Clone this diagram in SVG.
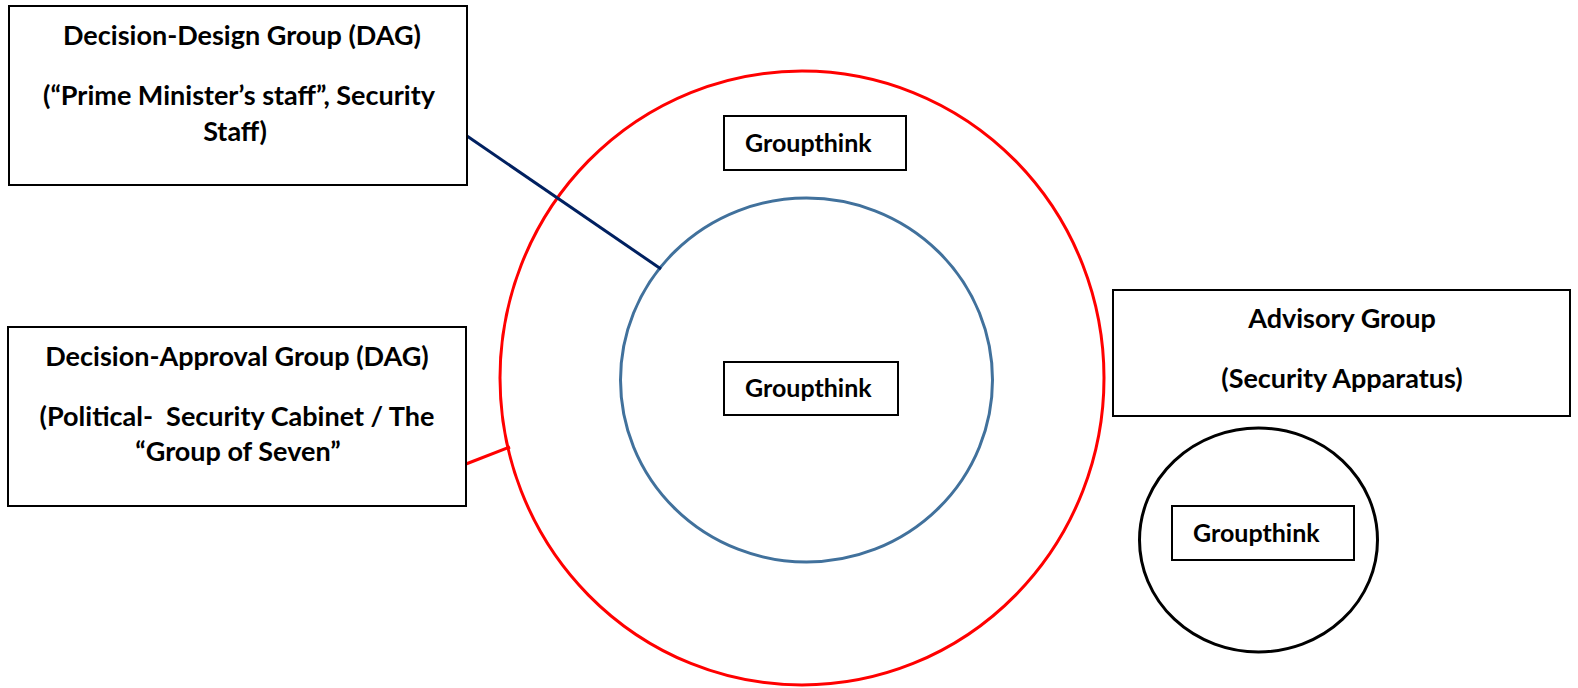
<svg xmlns="http://www.w3.org/2000/svg" width="1578" height="688" viewBox="0 0 1578 688">
<style>
.box{fill:#fff;stroke:#000;stroke-width:2}
.t{font-family:Lato,"Open Sans","Liberation Sans",sans-serif;font-weight:bold;font-size:27px;fill:#000}
.g{font-family:Lato,"Open Sans","Liberation Sans",sans-serif;font-weight:bold;font-size:25px;fill:#000}
.m{text-anchor:middle}
</style>
<rect width="1578" height="688" fill="#fff"/>
<g id="outer-circle"><ellipse cx="802" cy="378" rx="302" ry="307" fill="none" stroke="#ff0000" stroke-width="3"/></g>
<g id="inner-circle"><ellipse cx="806.5" cy="380" rx="186" ry="182" fill="none" stroke="#41719c" stroke-width="3"/></g>
<g id="advisory-circle"><ellipse cx="1258.5" cy="540" rx="119" ry="112" fill="none" stroke="#000" stroke-width="3"/></g>
<g id="connectors">
<line x1="467" y1="136" x2="661" y2="269" stroke="#002060" stroke-width="3"/>
<line x1="466" y1="464" x2="510" y2="447" stroke="#ff0000" stroke-width="3"/>
</g>
<g id="design-group">
<rect class="box" x="9" y="6" width="458" height="179"/>
<text class="t m" x="242" y="45">Decision-Design Group (DAG)</text>
<text class="t m" x="239" y="105">(“Prime Minister’s staff”, Security</text>
<text class="t m" x="235" y="141">Staff)</text>
</g>
<g id="approval-group">
<rect class="box" x="8" y="327" width="458" height="179"/>
<text class="t m" x="237" y="366">Decision-Approval Group (DAG)</text>
<text class="t m" x="237" y="426" xml:space="preserve">(Political-  Security Cabinet / The</text>
<text class="t m" x="238" y="461">“Group of Seven”</text>
</g>
<g id="advisory-group">
<rect class="box" x="1113" y="290" width="457" height="126"/>
<text class="t m" x="1342" y="328">Advisory Group</text>
<text class="t m" x="1342" y="388">(Security Apparatus)</text>
</g>
<g id="groupthink-top">
<rect class="box" x="724" y="116" width="182" height="54"/>
<text class="g" x="745" y="152">Groupthink</text>
</g>
<g id="groupthink-middle">
<rect class="box" x="724" y="362" width="174" height="53"/>
<text class="g" x="745" y="397">Groupthink</text>
</g>
<g id="groupthink-advisory">
<rect class="box" x="1172" y="506" width="182" height="54"/>
<text class="g" x="1193" y="542">Groupthink</text>
</g>
</svg>
